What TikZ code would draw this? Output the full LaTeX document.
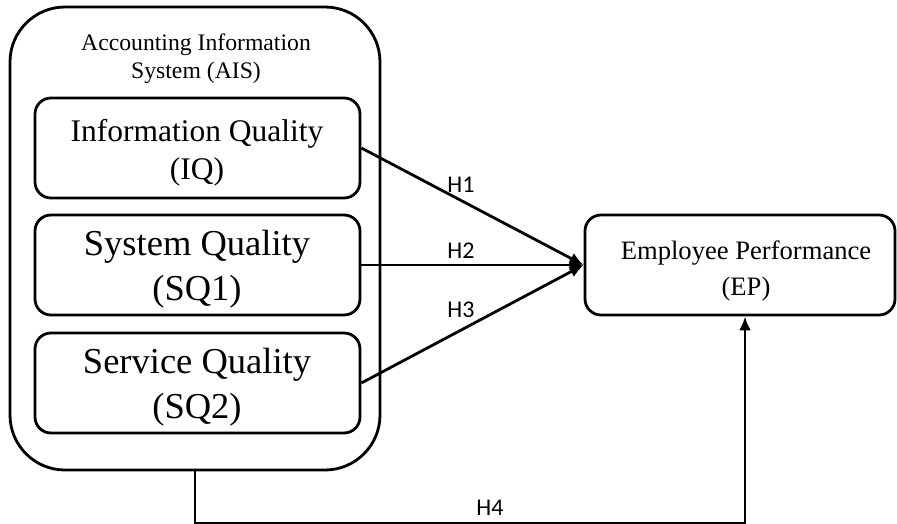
\documentclass[tikz,border=0pt]{standalone}
\usepackage{fontspec}
\setmainfont{Liberation Serif}
\newfontfamily\labelfont{Carlito}
\usetikzlibrary{arrows.meta}

\tikzset{
  frame/.style={draw, line width=2.8pt, rounded corners=55pt},
  construct/.style={draw, line width=2.8pt, rounded corners=16pt, inner sep=0pt},
  line/.style={anchor=base, inner sep=0pt},
  small/.style={line, font=\fontsize{23.7}{28}\selectfont},
  mid/.style={line, font=\fontsize{26.6}{32}\selectfont},
  medium/.style={line, font=\fontsize{31.5}{38}\selectfont},
  large/.style={line, font=\fontsize{36.5}{44}\selectfont},
  link/.style={line width=2.8pt, -{Latex[length=14pt,width=12pt]}},
  hyp/.style={anchor=base, inner sep=0pt, font=\labelfont\fontsize{24}{28}\selectfont}
}

\begin{document}
\begin{tikzpicture}[x=1pt,y=-1pt]
  \useasboundingbox (0,0) rectangle (897,524);

  % outer AIS frame and its title
  \node[frame, minimum width=370pt, minimum height=463pt] (ais) at (195,238.5) {};
  \node[small] (aisa) at (196,51) {Accounting Information};
  \node[small] (aisb) at (196,79) {System (AIS)};

  % the three AIS dimensions
  \node[construct, minimum width=325pt, minimum height=100pt] (iq) at (197.5,148) {};
  \node[medium] (iqa) at (197,142) {Information Quality};
  \node[medium] (iqb) at (197,179) {(IQ)};

  \node[construct, minimum width=325pt, minimum height=100pt] (sq1) at (197.5,265) {};
  \node[large] (sq1a) at (197,255) {System Quality};
  \node[large] (sq1b) at (197,300) {(SQ1)};

  \node[construct, minimum width=325pt, minimum height=100pt] (sq2) at (197.5,383) {};
  \node[large] (sq2a) at (197,373) {Service Quality};
  \node[large] (sq2b) at (197,418) {(SQ2)};

  % outcome
  \node[construct, minimum width=310pt, minimum height=100pt] (ep) at (740,265) {};
  \node[mid] (epa) at (746,259) {Employee Performance};
  \node[mid] (epb) at (746,295) {(EP)};

  % hypothesised paths
  \draw[link] (iq.east) -- (ep.west);
  \draw[link] (sq1.east) -- (ep.west);
  \draw[link] (sq2.east) -- (ep.west);
  \draw[link] (ais.south) -- ++(0,52) -| ([xshift=5pt]ep.south);

  \node[hyp] (h1) at (461,192) {H1};
  \node[hyp] (h2) at (461,258) {H2};
  \node[hyp] (h3) at (461,317) {H3};
  \node[hyp] (h4) at (490,515) {H4};
\end{tikzpicture}
\end{document}
